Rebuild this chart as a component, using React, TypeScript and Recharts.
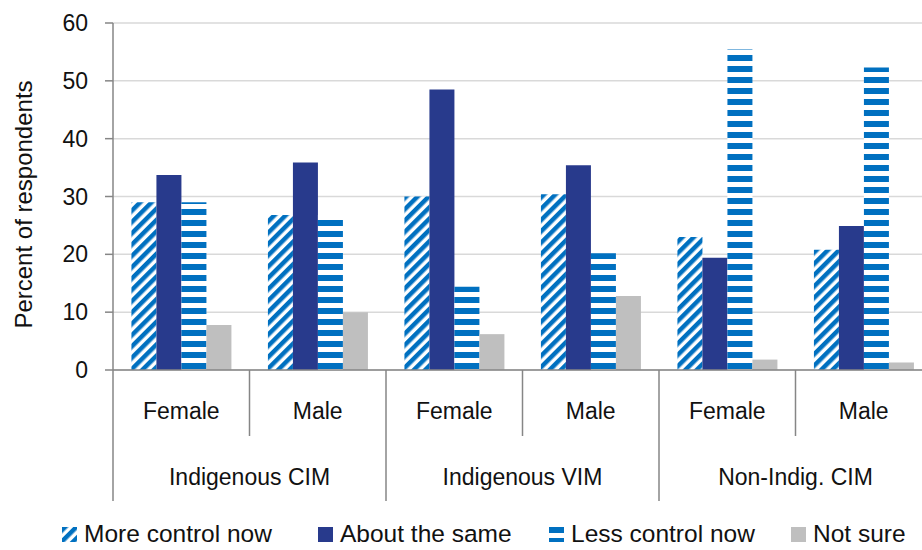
import { BarChart, Bar, XAxis, YAxis, CartesianGrid, Legend, Label } from 'recharts';

const sexes = ['Female', 'Male', 'Female', 'Male', 'Female', 'Male'];
const groups = ['Indigenous CIM', 'Indigenous CIM', 'Indigenous VIM', 'Indigenous VIM', 'Non-Indig. CIM', 'Non-Indig. CIM'];

const moreControl = [29.0, 26.8, 30.0, 30.4, 23.0, 20.8];
const aboutSame   = [33.7, 35.9, 48.5, 35.4, 19.4, 24.9];
const lessControl = [29.0, 26.8, 14.4, 20.2, 55.4, 52.3];
const notSure     = [7.8, 10.0, 6.2, 12.8, 1.8, 1.3];

const yTicks = [0, 10, 20, 30, 40, 50, 60];

const series = [
  { key: 'more', name: 'More control now', fill: 'url(#diagStripes)' },
  { key: 'same', name: 'About the same', fill: '#283a8c' },
  { key: 'less', name: 'Less control now', fill: 'url(#horizStripes)' },
  { key: 'notSure', name: 'Not sure', fill: '#bfbfbf' },
];

const data = sexes.map((sex, i) => ({
  sex,
  group: groups[i],
  more: moreControl[i],
  same: aboutSame[i],
  less: lessControl[i],
  notSure: notSure[i],
}));

const CHART_W = 932;
const CHART_H = 550;
const Y_AXIS_W = 113;
const HALF_BAND = (CHART_W - Y_AXIS_W) / sexes.length / 2;
const FONT = "'Liberation Sans', Arial, sans-serif";
const AXIS_GREY = '#868686';
// left edge of each legend item, as laid out in the original
const LEGEND_X = [62, 318, 549, 791];

// eslint-disable-next-line @typescript-eslint/no-explicit-any
function CategoryTick({ x, y, payload, index }: any) {
  const long = index % 2 === 0;
  const isLast = index === sexes.length - 1;
  return (
    <g>
      <line x1={x - HALF_BAND} x2={x - HALF_BAND} y1={y} y2={y + (long ? 131 : 66)} stroke={AXIS_GREY} strokeWidth={1.5} />
      {isLast && (
        <line x1={x + HALF_BAND} x2={x + HALF_BAND} y1={y} y2={y + 131} stroke={AXIS_GREY} strokeWidth={1.5} />
      )}
      <text x={x} y={y + 49} textAnchor="middle" fontSize={23} fill="#111">{payload.value}</text>
      {long && (
        <text x={x + HALF_BAND} y={y + 115} textAnchor="middle" fontSize={23} fill="#111">
          {groups[index]}
        </text>
      )}
    </g>
  );
}

function LegendIcon({ fill }: { fill: string }) {
  return (
    <svg width={15} height={15} style={{ display: 'block' }}>
      <rect width={15} height={15} fill={fill} />
    </svg>
  );
}

function CustomLegend() {
  return (
    <div style={{ position: 'relative', height: 50, fontFamily: FONT, fontSize: 24.5, color: '#111' }}>
      {series.map((s, i) => (
        <div
          key={s.key}
          style={{ position: 'absolute', left: LEGEND_X[i], top: 20, display: 'flex', alignItems: 'center', gap: 7, whiteSpace: 'nowrap' }}
        >
          <LegendIcon fill={s.fill} />
          <span style={{ lineHeight: '28px' }}>{s.name}</span>
        </div>
      ))}
    </div>
  );
}

export default function App() {
  return (
    <div style={{ position: 'absolute', left: 0, top: 0, width: 922, height: 550, overflow: 'hidden', background: '#fff' }}>
      <BarChart
        width={CHART_W}
        height={CHART_H}
        data={data}
        margin={{ top: 23, right: 0, bottom: 0, left: 0 }}
        barCategoryGap="13.5%"
        barGap={0}
        style={{ fontFamily: FONT }}
      >
        <defs>
          <pattern id="diagStripes" patternUnits="userSpaceOnUse" width={8} height={8} patternTransform="rotate(45)">
            <rect width={8} height={8} fill="#fff" />
            <rect width={4.5} height={8} fill="#0070c0" />
          </pattern>
          <pattern id="horizStripes" patternUnits="userSpaceOnUse" width={11} height={11}>
            <rect width={11} height={11} fill="#fff" />
            <rect width={11} height={6} fill="#0070c0" />
          </pattern>
        </defs>

        <CartesianGrid vertical={false} stroke="#d9d9d9" strokeWidth={1.5} />

        <XAxis
          dataKey="sex"
          height={130}
          axisLine={{ stroke: AXIS_GREY, strokeWidth: 1.5 }}
          tickLine={false}
          tickSize={0}
          tickMargin={0}
          interval={0}
          tick={<CategoryTick />}
        />
        <YAxis
          domain={[0, 60]}
          ticks={yTicks}
          width={Y_AXIS_W}
          tick={{ fill: '#111', fontSize: 23 }}
          tickSize={8}
          tickMargin={17}
          axisLine={{ stroke: AXIS_GREY, strokeWidth: 1.5 }}
          tickLine={{ stroke: AXIS_GREY, strokeWidth: 1.5 }}
        >
          <Label
            value="Percent of respondents"
            angle={-90}
            position="insideLeft"
            offset={23}
            dy={8}
            style={{ fontSize: 24, fill: '#111', textAnchor: 'middle' }}
          />
        </YAxis>

        <Legend verticalAlign="bottom" content={<CustomLegend />} />

        {series.map(s => (
          <Bar key={s.key} dataKey={s.key} name={s.name} fill={s.fill} isAnimationActive={false} />
        ))}
      </BarChart>
    </div>
  );
}
